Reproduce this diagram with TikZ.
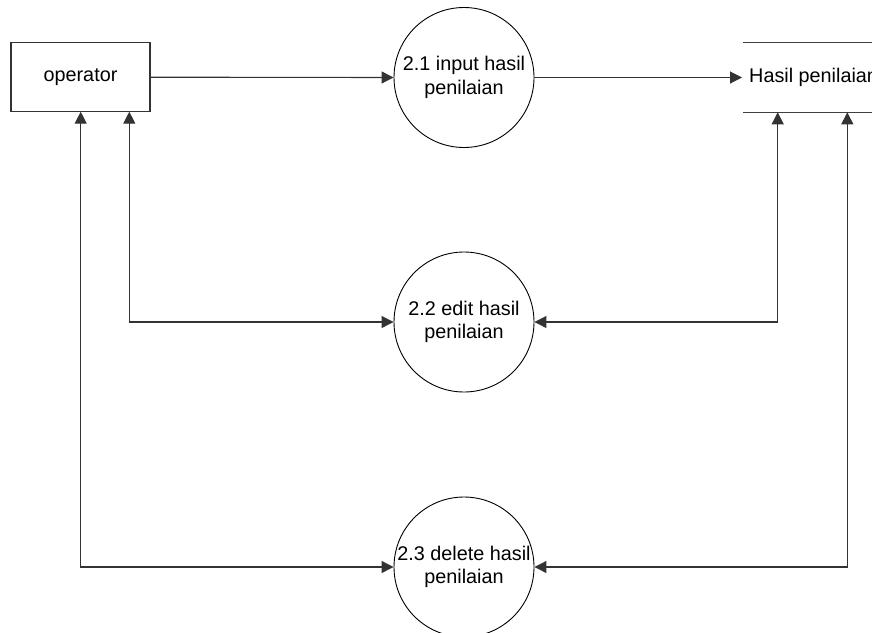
\documentclass[tikz,border=0pt]{standalone}
\usepackage{fontspec}
\setmainfont{Liberation Sans}
\usetikzlibrary{arrows.meta}
\begin{document}
\begin{tikzpicture}[x=1pt,y=-1pt,
  txt/.style={font=\fontsize{19.8}{23.5}\selectfont, align=center, inner sep=0pt},
  line/.style={draw=black!80, line width=1.1pt},
  flow/.style={line, -{Triangle[length=12pt,width=12pt]}},
  both/.style={line, {Triangle[length=12pt,width=12pt]}-{Triangle[length=12pt,width=12pt]}},
  entity/.style={rectangle, draw=black!80, line width=1.1pt, minimum width=139pt, minimum height=69pt, txt},
  proccircle/.style={circle, draw=black, line width=0.9pt, minimum size=140pt, inner sep=0pt},
  storeline/.style={draw=black!75, line width=1.1pt}
]
\useasboundingbox (0,0) rectangle (872,632);

% external entity
\node[entity] (op) at (80.5,77.2) {operator};

% processes
\node[proccircle] (p1) at (464,77.5) {};
\node[txt] (t1) at (p1) {2.1 input hasil\\penilaian};
\node[proccircle] (p2) at (464,322) {};
\node[txt] (t2) at (p2) {2.2 edit hasil\\penilaian};
\node[proccircle] (p3) at (464,567) {};
\node[txt] (t3) at (p3) {2.3 delete hasil\\penilaian};

% data store (open on the right)
\coordinate (stTL) at (743,42.7);
\coordinate (stTR) at (890,42.7);
\coordinate (stBL) at (743,112.3);
\coordinate (stBR) at (890,112.3);
\draw[storeline] (stTL) -- (stTR);
\draw[storeline] (stBL) -- (stBR);
\node[txt, anchor=west] (store) at (749,77.5) {Hasil penilaian};
\coordinate (stIn) at (742,77.5);

% attachment points
\coordinate (opB1) at (80.7,111.7);
\coordinate (opB2) at (129.3,111.7);
\coordinate (stB1) at (777.7,112.3);
\coordinate (stB2) at (847.3,112.3);

% data flows
\draw[flow] (op.east) -- (p1.west);
\draw[flow] (p1.east) -- (stIn);
\draw[both] (opB2) |- (p2.west);
\draw[both] (stB1) |- (p2.east);
\draw[both] (opB1) |- (p3.west);
\draw[both] (stB2) |- (p3.east);
\end{tikzpicture}
\end{document}
